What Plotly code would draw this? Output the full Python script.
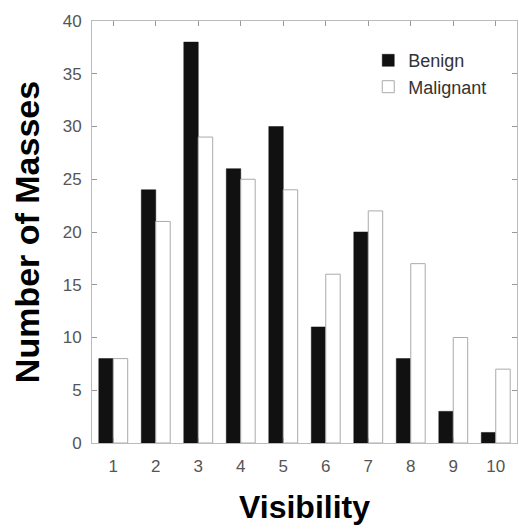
import plotly.graph_objects as go

categories = [1, 2, 3, 4, 5, 6, 7, 8, 9, 10]
benign = [8, 24, 38, 26, 30, 11, 20, 8, 3, 1]
malignant = [8, 21, 29, 25, 24, 16, 22, 17, 10, 7]
y_ticks = [0, 5, 10, 15, 20, 25, 30, 35, 40]

fig = go.Figure()
fig.add_trace(go.Bar(x=categories, y=benign, name="Benign",
                     marker=dict(color="#111111", line=dict(color="#111111", width=0.5))))
fig.add_trace(go.Bar(x=categories, y=malignant, name="Malignant",
                     marker=dict(color="white", line=dict(color="#aaaaaa", width=1))))

font_family = "Liberation Sans, Arial, Helvetica, sans-serif"
axis_common = dict(
    showgrid=False, zeroline=False, showline=True, linecolor="#bbbbbb", linewidth=1,
    mirror="ticks", ticks="inside", ticklen=5, tickcolor="#999999", tickwidth=1,
    tickfont=dict(family=font_family, size=17, color="#555555"),
)

fig.update_layout(
    width=519, height=529,
    margin=dict(l=92, r=2, t=21, b=86),
    paper_bgcolor="white", plot_bgcolor="white",
    barmode="group", bargap=0.32, bargroupgap=0,
    font=dict(family=font_family),
    xaxis=dict(range=[0.5, 10.5], tickmode="array", tickvals=categories,
               ticktext=[str(c) for c in categories], ticklabelstandoff=8,
               title=dict(text="<b>Visibility</b>", font=dict(size=32, color="black"), standoff=20),
               **axis_common),
    yaxis=dict(range=[0, 40], tickmode="array", tickvals=y_ticks, ticklabelstandoff=6,
               title=dict(text="<b>Number of Masses</b>", font=dict(size=34, color="black"), standoff=12),
               **axis_common),
    legend=dict(x=0.65, y=0.95, xanchor="left", yanchor="top",
                bgcolor="rgba(0,0,0,0)", tracegroupgap=6,
                font=dict(family=font_family, size=18, color="#333333")),
)

fig.write_html("out.html")
